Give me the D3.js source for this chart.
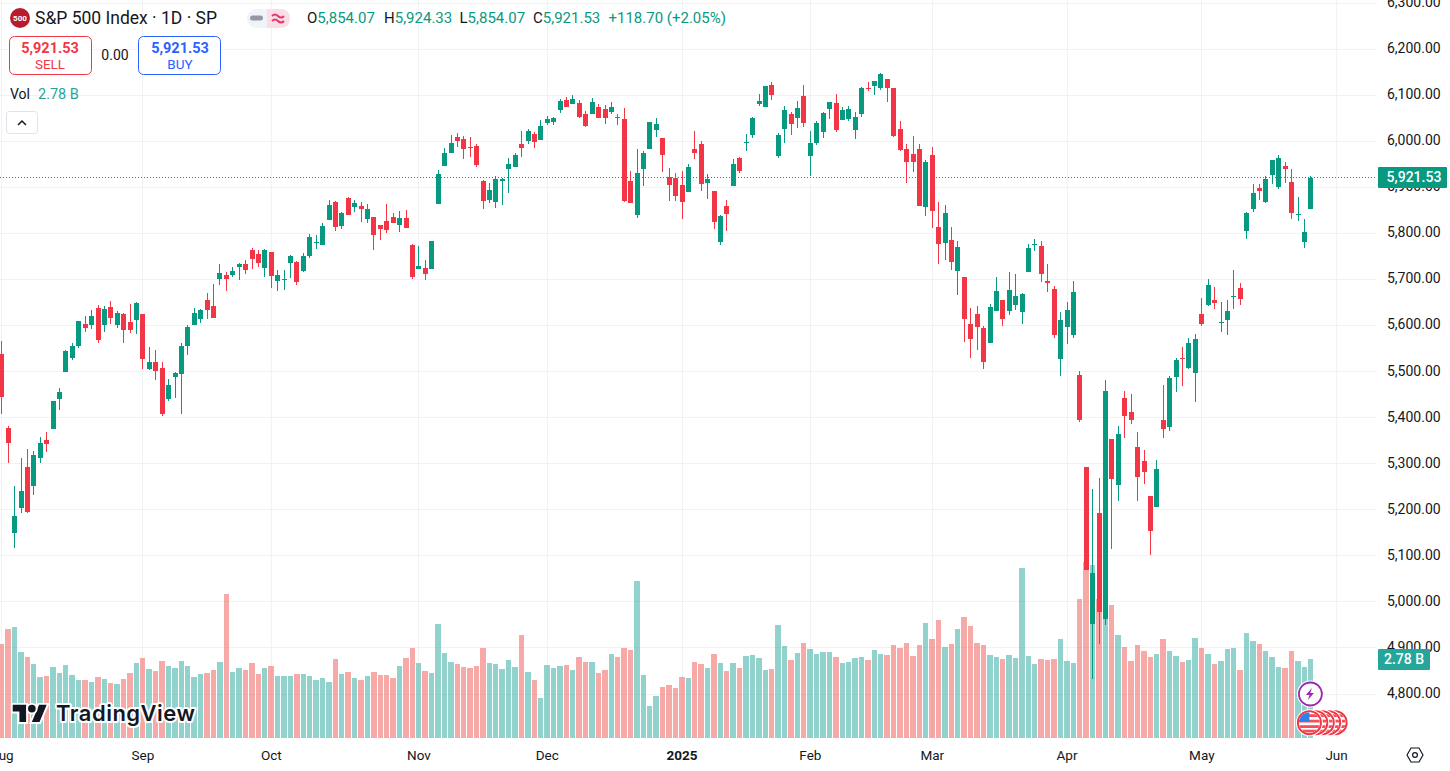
<!DOCTYPE html>
<html lang="en">
<head>
<meta charset="utf-8">
<title>S&amp;P 500 Index</title>
<script src="https://d3js.org/d3.v7.min.js"></script>
<style>
  html, body { margin: 0; padding: 0; background: #fff; overflow: hidden; }
  svg { display: block; }
  text { font-family: Roboto, "Noto Sans", sans-serif; fill: #131722; }
  .grid line { stroke: #f1f2f5; shape-rendering: crispEdges; }
  .grid path, .axis path { display: none; }
</style>
</head>
<body>
<div id="container"></div>
<script>
var opens = [
5538,5377,5149,5203,5292,5251,5312,5351,5375,5440,
5499,5529,5555,5603,5601,5638,5601,5640,5601,5625,
5607,5612,5625,5505,5520,5507,5440,5488,5494,5555,
5601,5614,5655,5642,5701,5710,5710,5728,5734,5764,
5756,5725,5760,5697,5700,5736,5738,5719,5751,5780,
5775,5830,5869,5817,5878,5858,5859,5831,5836,5818,
5827,5836,5818,5833,5776,5723,5725,5722,5863,5946,
5975,6009,6005,5988,5990,5914,5872,5868,5914,5940,
5944,5994,6001,6016,6003,6040,6042,6068,6090,6081,
6083,6059,6059,6075,6070,6064,6053,6049,5914,5840,
5940,5983,6025,6007,5922,5920,5905,5890,5983,5994,
5909,5892,5781,5859,5903,5964,5997,6014,6081,6075,
6122,5968,6027,6059,6051,6099,5968,5996,6020,6070,
6083,6046,6049,6025,6059,6116,6120,6116,6135,6116,
6027,5983,5972,5983,5857,5970,5814,5779,5786,5718,
5705,5603,5625,5594,5562,5631,5655,5631,5644,5629,
5716,5775,5772,5696,5679,5527,5596,5579,5492,5292,
4951,5194,4962,5353,5253,5442,5412,5336,5305,5229,
5205,5396,5379,5488,5530,5508,5497,5625,5645,5656,
5607,5612,5663,5682,5806,5854,5899,5869,5928,5901,
5947,5912,5841,5782,5854.07];
var highs = [
5566,5383,5251,5312,5331,5327,5359,5370,5436,5464,
5546,5562,5609,5620,5633,5644,5642,5653,5631,5627,
5646,5651,5625,5553,5546,5522,5483,5499,5562,5601,
5638,5636,5670,5690,5734,5717,5728,5736,5743,5769,
5764,5767,5760,5721,5721,5754,5741,5758,5799,5797,
5823,5873,5871,5847,5880,5873,5868,5864,5836,5818,
5864,5844,5849,5851,5777,5772,5743,5784,5938,5986,
6014,6018,6012,6009,5994,5916,5909,5925,5920,5964,
5975,6022,6027,6020,6046,6055,6053,6092,6096,6101,
6090,6066,6094,6081,6079,6086,6059,6072,5936,5983,
5979,6042,6051,6007,5942,5931,5936,5951,6022,6001,
5929,5892,5840,5872,5962,5966,6016,6053,6103,6120,
6129,6018,6077,6064,6088,6122,6022,6044,6064,6086,
6103,6075,6077,6064,6118,6129,6131,6149,6135,6116,
6044,5994,6012,5994,5959,5988,5868,5862,5814,5783,
5705,5638,5642,5599,5646,5705,5655,5716,5712,5670,
5777,5788,5783,5733,5686,5629,5651,5696,5501,5292,
5246,5268,5481,5353,5381,5459,5451,5368,5329,5229,
5309,5470,5490,5530,5554,5573,5582,5660,5701,5684,
5651,5656,5721,5693,5847,5908,5908,5925,5960,5971,
5956,5941,5880,5832,5924.33];
var lows = [
5409,5301,5118,5192,5194,5233,5301,5325,5375,5416,
5499,5525,5551,5586,5592,5562,5586,5603,5594,5562,
5583,5581,5505,5503,5481,5403,5436,5442,5407,5536,
5601,5605,5614,5616,5688,5675,5706,5699,5712,5723,
5728,5706,5682,5675,5677,5704,5688,5717,5747,5767,
5775,5830,5806,5810,5841,5847,5825,5822,5764,5786,
5801,5822,5803,5812,5702,5722,5698,5722,5863,5946,
5975,5988,5962,5966,5944,5853,5866,5855,5862,5888,
5944,5966,5994,5986,6003,6036,6036,6062,6075,6081,
6051,6031,6059,6051,6038,6059,6036,5868,5866,5833,
5903,5983,6009,5933,5870,5870,5831,5890,5962,5892,
5875,5809,5775,5805,5903,5931,5979,6007,6077,6075,
6090,5964,5996,6014,6029,6031,5925,5992,6007,6049,
6020,6046,6044,6005,6053,6109,6101,6112,6086,6009,
5979,5909,5933,5859,5838,5812,5733,5742,5720,5666,
5564,5529,5546,5505,5562,5631,5599,5622,5633,5603,
5716,5762,5694,5672,5573,5490,5559,5573,5390,5069,
4833,4909,4949,5114,5220,5357,5386,5220,5255,5101,
5205,5355,5372,5456,5469,5506,5434,5599,5643,5636,
5586,5580,5636,5645,5788,5847,5873,5867,5908,5897,
5910,5832,5828,5769,5854.07];
var closes = [
5444,5344,5186,5240,5196,5318,5344,5342,5436,5455,
5544,5555,5609,5594,5620,5568,5636,5616,5627,5590,
5590,5649,5527,5520,5501,5407,5470,5496,5555,5596,
5627,5633,5633,5616,5714,5701,5719,5734,5721,5745,
5736,5764,5708,5710,5701,5751,5695,5751,5793,5782,
5817,5862,5814,5845,5841,5867,5853,5853,5796,5809,
5807,5822,5833,5812,5706,5729,5713,5784,5929,5975,
5996,6001,5983,5986,5949,5870,5894,5918,5918,5951,
5970,5986,6022,5999,6033,6049,6051,6088,6075,6092,
6053,6033,6086,6051,6051,6075,6051,5870,5866,5931,
5975,6042,6038,5970,5905,5881,5868,5944,5975,5907,
5918,5825,5838,5842,5951,5936,5999,6051,6088,6120,
6101,6014,6068,6038,6072,6040,5996,6040,6062,6086,
6025,6068,6070,6053,6116,6114,6131,6146,6116,6012,
5981,5955,5955,5859,5955,5849,5777,5844,5738,5770,
5614,5570,5596,5520,5640,5675,5614,5677,5664,5668,
5768,5777,5712,5692,5579,5612,5633,5672,5394,5070,
5062,4979,5457,5266,5364,5403,5394,5272,5281,5155,
5288,5375,5486,5525,5528,5562,5571,5604,5688,5649,
5608,5632,5665,5658,5845,5888,5893,5919,5960,5964,
5941,5845,5842,5804,5921.53];
// volume in billions
var volumes = [
3.31,3.83,3.90,3.02,2.85,2.60,2.15,2.18,2.50,2.29,
2.57,2.22,2.04,2.04,1.97,2.15,2.07,1.93,1.90,2.07,
2.29,2.64,2.81,2.43,2.36,2.71,2.53,2.46,2.71,2.53,
2.15,2.25,2.29,2.39,2.67,5.06,2.32,2.46,2.39,2.64,
2.25,2.46,2.53,2.18,2.18,2.18,2.25,2.25,2.18,2.04,
2.11,1.97,2.78,2.25,2.32,2.11,2.04,2.18,2.32,2.22,
2.22,2.11,2.53,2.81,3.17,2.64,2.36,2.29,4.01,2.99,
2.67,2.60,2.50,2.46,2.53,3.17,2.64,2.60,2.43,2.74,
2.50,3.62,2.32,2.04,1.41,2.57,2.46,2.53,2.57,2.39,
2.85,2.67,2.67,2.29,2.39,2.95,2.85,3.17,3.09,5.52,
2.22,1.13,1.48,1.79,1.86,1.76,2.15,2.11,2.67,2.60,
2.46,2.95,2.64,2.36,2.64,2.46,2.88,2.92,2.81,2.39,
2.43,3.97,3.24,2.74,2.99,3.34,3.13,2.95,3.02,3.02,
2.85,2.64,2.67,2.81,2.85,2.74,3.09,2.95,2.92,3.27,
3.17,3.34,2.88,3.27,4.04,3.48,4.15,3.20,3.31,3.83,
4.26,3.94,3.34,3.27,2.92,2.85,2.78,2.92,2.81,5.98,
2.88,2.60,2.78,2.74,2.78,3.48,2.71,2.64,4.89,6.20,
6.08,4.90,4.50,4.68,3.62,3.20,2.71,3.27,3.06,2.85,
2.95,3.48,3.06,2.88,2.67,2.74,3.52,3.17,2.95,2.60,
2.71,3.13,3.17,2.39,3.69,3.41,3.31,3.06,2.85,2.50,
2.46,3.06,2.71,2.50,2.78];

var priceTicks = [6300,6200,6100,6000,5900,5800,5700,5600,5500,5400,5300,5200,5100,5000,4900,4800];
var timeTicks = [0,22,42,65,85,106,126,145,166,187,208];
var timeLabels = ["Aug","Sep","Oct","Nov","Dec","2025","Feb","Mar","Apr","May","Jun"];
var lastPrice = 5921.53, lastVolume = 2.78;
var eventBars = [208,207,206,205,204];
var ohlcLabels = ["O","H","L","C"];
var ohlcValues = ["5,854.07","5,924.33","5,854.07","5,921.53"];
var ohlcX = [307,384,459.5,533];

var w = 1450, h = 771, plotW = 1376, plotB = 738;
var up = "#089981", down = "#f23645", upVol = "#26a69a", downVol = "#ef5350";

var svg = d3.select("#container").append("svg").attr("width", w).attr("height", h);
var x = d3.scaleLinear().domain([0, 204]).range([1.3, 1310.4]);
var y = d3.scaleLinear().domain([5000, 6000]).range([601.9, 141.4]);
var yVol = d3.scaleLinear().domain([0, 6]).range([plotB, plotB - 6 * 28.4]);
var fmt = d3.format(",.2f");

svg.append("clipPath").attr("id", "plot").append("rect")
   .attr("width", plotW).attr("height", plotB);

// grid
svg.append("g").attr("class", "grid")
   .call(d3.axisRight(y).offset(0).tickValues(priceTicks).tickSize(plotW).tickFormat(""));
svg.append("g").attr("class", "grid").attr("clip-path", "url(#plot)")
   .call(d3.axisBottom(x).tickValues(timeTicks).tickSize(plotB).tickFormat(""));

var plot = svg.append("g").attr("clip-path", "url(#plot)");

// volume
function volLeft(i) { return Math.ceil(x(i) - 2.9); }
plot.selectAll("rect.vol").data(volumes).enter().append("rect")
    .attr("class", "vol")
    .attr("x", (d, i) => volLeft(i))
    .attr("width", (d, i) => volLeft(i + 1) - 1 - volLeft(i))
    .attr("y", d => Math.round(yVol(d)))
    .attr("height", d => plotB - Math.round(yVol(d)))
    .attr("fill", (d, i) => closes[i] >= opens[i] ? upVol : downVol)
    .attr("opacity", 0.5)
    .attr("shape-rendering", "crispEdges");

// last price line
plot.append("line").attr("x1", 0).attr("x2", plotW)
    .attr("y1", Math.floor(y(lastPrice)) + 0.5).attr("y2", Math.floor(y(lastPrice)) + 0.5)
    .attr("stroke", up).attr("stroke-dasharray", "1 2").attr("shape-rendering", "crispEdges");

// candles
var color = i => closes[i] >= opens[i] ? up : down;
plot.selectAll("rect.wick").data(opens).enter().append("rect")
    .attr("class", "wick")
    .attr("x", (d, i) => Math.round(x(i)))
    .attr("width", 1)
    .attr("y", (d, i) => Math.round(y(highs[i])))
    .attr("height", (d, i) => Math.max(1, Math.round(y(lows[i])) - Math.round(y(highs[i]))))
    .attr("fill", (d, i) => color(i))
    .attr("shape-rendering", "crispEdges");
plot.selectAll("rect.body").data(opens).enter().append("rect")
    .attr("class", "body")
    .attr("x", (d, i) => Math.round(x(i)) - 2)
    .attr("width", 5)
    .attr("y", (d, i) => Math.round(y(Math.max(opens[i], closes[i]))))
    .attr("height", (d, i) => Math.max(1, Math.round(y(Math.min(opens[i], closes[i]))) - Math.round(y(Math.max(opens[i], closes[i])))))
    .attr("fill", (d, i) => color(i))
    .attr("shape-rendering", "crispEdges");

// axes
var axY = svg.append("g").attr("class", "axis").attr("transform", "translate(1387,0)")
   .call(d3.axisRight(y).tickValues(priceTicks).tickSize(0).tickPadding(0).tickFormat(fmt));
axY.selectAll("text").attr("dy", "0.24em").style("font-size", "14px").attr("fill", "#131722");
var axX = svg.append("g").attr("class", "axis").attr("transform", "translate(0,750)")
   .call(d3.axisBottom(x).tickValues(timeTicks).tickSize(0).tickPadding(0)
     .tickFormat((d, i) => timeLabels[i]));
axX.selectAll("text").style("font-size", "13.5px").attr("fill", "#131722")
   .style("font-weight", (d, i) => timeLabels[i] === "2025" ? "700" : "400");

// price and volume labels on the axis
svg.append("rect").attr("x", 1378).attr("y", 167).attr("width", 69).attr("height", 21)
   .attr("fill", up).attr("rx", 1);
svg.append("text").attr("x", 1414).attr("y", y(lastPrice) - 0.5).attr("dy", "0.35em").attr("text-anchor", "middle")
   .style("fill", "#fff").style("font-size", "14px").style("font-weight", "500").text(fmt(lastPrice));
svg.append("rect").attr("x", 1378).attr("y", Math.round(yVol(lastVolume)) - 10).attr("width", 52).attr("height", 21)
   .attr("fill", upVol).attr("rx", 1);
svg.append("text").attr("x", 1404).attr("y", yVol(lastVolume)).attr("dy", "0.35em").attr("text-anchor", "middle")
   .style("fill", "#fff").style("font-size", "14px").style("font-weight", "500").text(lastVolume.toFixed(2) + " B");

// header
svg.append("circle").attr("cx", 20).attr("cy", 18).attr("r", 10).attr("fill", "#b71c2c");
svg.append("text").attr("x", 20).attr("y", 21).attr("text-anchor", "middle")
   .style("fill", "#fff").style("font-size", "8px").style("font-weight", "700").text("500");
svg.append("text").attr("x", 35).attr("y", 24).style("font-size", "17.5px").text("S&P 500 Index \u00b7 1D \u00b7 SP");

svg.append("rect").attr("x", 247).attr("y", 9).attr("width", 43).attr("height", 19).attr("rx", 9).attr("fill", "#f0f3fa");
svg.append("path").attr("d", "M267 9h14a9 9 0 0 1 9 9.5a9 9 0 0 1 -9 9.5h-14z").attr("fill", "#fbdde6");
svg.append("rect").attr("x", 250).attr("y", 15.5).attr("width", 13).attr("height", 5).attr("rx", 2.5).attr("fill", "#9598a1");
svg.append("path").attr("d", "M272 16q3-3 6 0t6 0M272 21q3-3 6 0t6 0").attr("fill", "none").attr("stroke", "#e0386a").attr("stroke-width", 2);

ohlcLabels.forEach(function(l, i) {
  var t = svg.append("text").attr("x", ohlcX[i]).attr("y", 23).style("font-size", "15px");
  t.append("tspan").text(l);
  t.append("tspan").style("fill", up).text(ohlcValues[i]);
});
svg.append("text").attr("x", 608.5).attr("y", 23).style("font-size", "15px").style("fill", up).text("+118.70 (+2.05%)");

svg.append("rect").attr("x", 9.5).attr("y", 36.5).attr("width", 82).attr("height", 38).attr("rx", 5)
   .attr("fill", "#fff").attr("stroke", down);
svg.append("text").attr("x", 50).attr("y", 53).attr("text-anchor", "middle")
   .style("fill", down).style("font-size", "14.5px").style("font-weight", "700").text("5,921.53");
svg.append("text").attr("x", 50).attr("y", 69).attr("text-anchor", "middle")
   .style("fill", down).style("font-size", "13.5px").text("SELL");
svg.append("text").attr("x", 115).attr("y", 60).attr("text-anchor", "middle").style("font-size", "14px").text("0.00");
svg.append("rect").attr("x", 138.5).attr("y", 36.5).attr("width", 82).attr("height", 38).attr("rx", 5)
   .attr("fill", "#fff").attr("stroke", "#2962ff");
svg.append("text").attr("x", 180).attr("y", 53).attr("text-anchor", "middle")
   .style("fill", "#2962ff").style("font-size", "14.5px").style("font-weight", "700").text("5,921.53");
svg.append("text").attr("x", 180).attr("y", 69).attr("text-anchor", "middle")
   .style("fill", "#2962ff").style("font-size", "13.5px").text("BUY");

svg.append("text").attr("x", 10).attr("y", 99).style("font-size", "14px").text("Vol");
svg.append("text").attr("x", 38).attr("y", 99).style("fill", upVol).style("font-size", "14.5px").text("2.78 B");

svg.append("rect").attr("x", 6.5).attr("y", 111.5).attr("width", 31).attr("height", 22).attr("rx", 3)
   .attr("fill", "#fff").attr("stroke", "#e0e3eb");
svg.append("path").attr("d", "M18 125l4-4l4 4").attr("fill", "none").attr("stroke", "#131722").attr("stroke-width", 1.5);

// logo
var logo = svg.append("g");
var mark = "M14 22H7V11H0V4h14v18zM28 22h-8l7.5-18h8L28 22z";
logo.append("g").attr("transform", "translate(12.7,701) scale(0.958)")
    .call(g => {
      g.append("path").attr("d", mark).attr("fill", "#131722").attr("stroke", "#fff").attr("stroke-width", 4).attr("paint-order", "stroke");
      g.append("circle").attr("cx", 20).attr("cy", 8).attr("r", 4).attr("fill", "#131722").attr("stroke", "#fff").attr("stroke-width", 4).attr("paint-order", "stroke");
    });
logo.append("text").attr("x", 56).attr("y", 721)
    .style("font-family", "Inter").style("font-size", "22px").style("font-weight", "600")
    .style("stroke", "#fff").style("stroke-width", 4).style("paint-order", "stroke").style("stroke-linejoin", "round")
    .attr("textLength", 139).text("TradingView");

// event markers
svg.append("clipPath").attr("id", "flagClip").append("circle").attr("r", 10.5);
var flags = svg.selectAll("g.flag").data(eventBars).enter().append("g")
   .attr("class", "flag")
   .attr("transform", d => "translate(" + (x(d) - 1) + ",722.7)");
flags.append("circle").attr("r", 13.5).attr("fill", "#fff");
flags.append("circle").attr("r", 11.5).attr("fill", "#fff").attr("stroke", down).attr("stroke-width", 2);
var inner = flags.append("g").attr("clip-path", "url(#flagClip)");
inner.append("rect").attr("x", -11).attr("y", -11).attr("width", 22).attr("height", 22).attr("fill", "#fff");
[-8.5, -3, 2.5, 7].forEach(function(s) {
  inner.append("rect").attr("x", -11).attr("y", s).attr("width", 22).attr("height", 2.8).attr("fill", "#f0515a");
});
inner.append("rect").attr("x", -11).attr("y", -11).attr("width", 11).attr("height", 10).attr("fill", "#2f80ed");

var bolt = svg.append("g").attr("transform", "translate(" + x(204) + ",694)");
bolt.append("circle").attr("r", 13.5).attr("fill", "#fff");
bolt.append("circle").attr("r", 11.5).attr("fill", "#fff").attr("stroke", "#9c27b0").attr("stroke-width", 1.8);
bolt.append("path").attr("d", "M1.5-6L-4.5 1h3.6L-2.5 6l6-7H-0.1z").attr("fill", "#9c27b0");

// settings icon
svg.append("path").attr("d", "M1407 755l4-7h8l4 7l-4 7h-8z").attr("fill", "none").attr("stroke", "#131722").attr("stroke-width", 1.2);
svg.append("circle").attr("cx", 1415).attr("cy", 755).attr("r", 2.4).attr("fill", "none").attr("stroke", "#131722").attr("stroke-width", 1.2);
</script>
</body>
</html>
